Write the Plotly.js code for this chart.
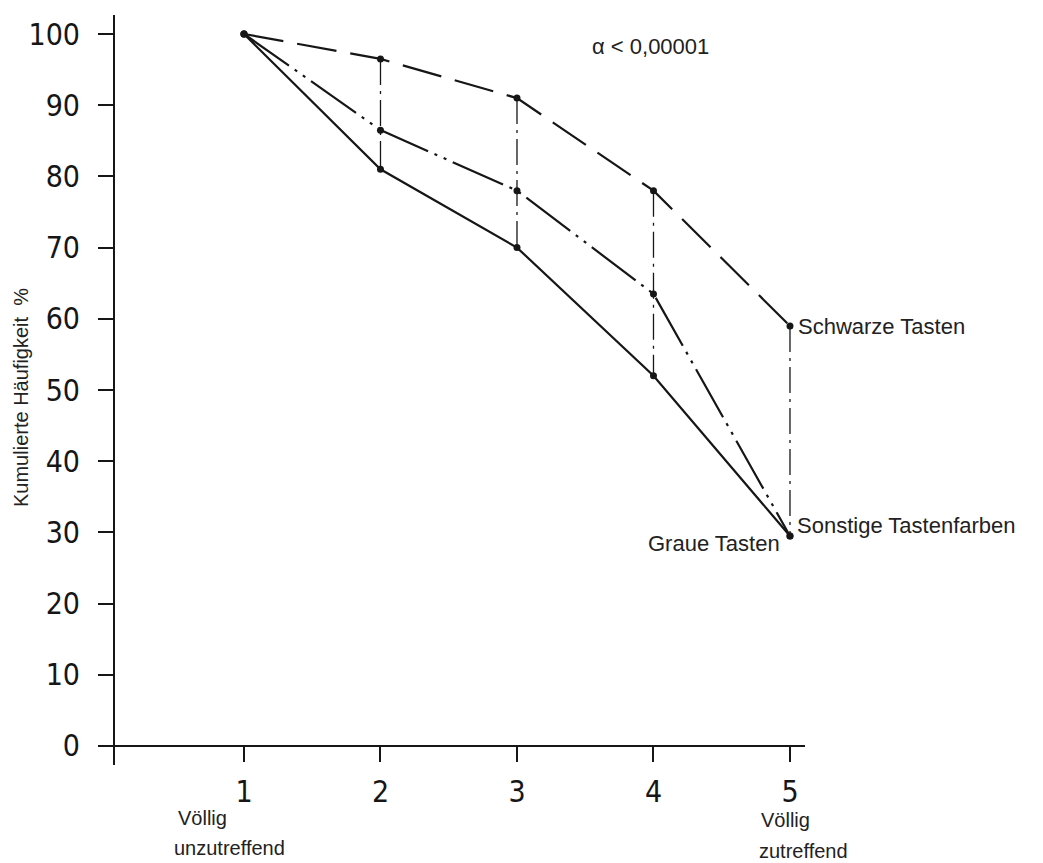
<!DOCTYPE html>
<html>
<head>
<meta charset="utf-8">
<script src="https://cdn.plot.ly/plotly-3.0.1.min.js"></script>
<style>html,body{margin:0;padding:0;background:#fff;}#chart{width:1043px;height:863px;}</style>
</head>
<body>
<div id="chart"></div>
<script>
// ---- data ----
const categories = [1, 2, 3, 4, 5];
const tickLabels = ["1", "2", "3", "4", "5"];
const schwarzeTasten = [100, 96.5, 91, 78, 59];
const sonstigeTastenfarben = [100, 86.5, 78, 63.5, 29.5];
const graueTasten = [100, 81, 70, 52, 29.5];
const yTicks = [0, 10, 20, 30, 40, 50, 60, 70, 80, 90, 100];
const seriesNames = ["Schwarze Tasten", "Sonstige Tastenfarben", "Graue Tasten"];
const yTitle = "Kumulierte Häufigkeit  %";
const alphaText = "α < 0,00001";

const ink = "#161616";
const tickFont = {family: "DejaVu Sans Condensed, Liberation Sans Narrow, Arial Narrow, Roboto, sans-serif", size: 30, color: ink, weight: 500};
const labelFont = {family: "Liberation Sans, Arial, sans-serif", size: 22, color: "#222"};

// vertical connectors between highest and lowest value at each category
const connX = [], connY = [];
for (let i = 1; i < categories.length; i++) {
  const hi = Math.max(schwarzeTasten[i], sonstigeTastenfarben[i], graueTasten[i]);
  const lo = Math.min(schwarzeTasten[i], sonstigeTastenfarben[i], graueTasten[i]);
  connX.push(categories[i], categories[i], null);
  connY.push(hi, lo, null);
}

const traces = [
  {x: connX, y: connY, mode: "lines", line: {color: ink, width: 1.3, dash: "26px,6px,3px,6px"}, hoverinfo: "skip", showlegend: false},
  {x: categories, y: schwarzeTasten, name: seriesNames[0], mode: "lines+markers",
   line: {color: ink, width: 2.2, dash: "40px,14px"}, marker: {color: ink, size: 7}},
  {x: categories, y: sonstigeTastenfarben, name: seriesNames[1], mode: "lines+markers",
   line: {color: ink, width: 2.2, dash: "55px,7px,3px,7px,3px,7px"}, marker: {color: ink, size: 7}},
  {x: categories, y: graueTasten, name: seriesNames[2], mode: "lines+markers",
   line: {color: ink, width: 2.2}, marker: {color: ink, size: 7}}
];

const last = categories.length - 1;
const ann = (o) => Object.assign({showarrow: false, xanchor: "center", yanchor: "middle", font: labelFont}, o);
const px = (p) => (p - 115) / 690;   // pixel -> paper x
const py = (p) => (765 - p) / 750;   // pixel -> paper y

const layout = {
  width: 1043, height: 863,
  margin: {l: 115, r: 238, t: 15, b: 98, pad: 0},
  paper_bgcolor: "#fff", plot_bgcolor: "#fff",
  showlegend: false,
  xaxis: {
    range: [0.055, 5.11], tickmode: "array", tickvals: categories, ticktext: tickLabels,
    showgrid: false, zeroline: false, showline: true, linecolor: ink, linewidth: 2,
    ticks: "outside", ticklen: 15, tickwidth: 2, tickcolor: ink,
    anchor: "free", position: 0.0253, tickfont: tickFont, ticklabelstandoff: 4
  },
  yaxis: {
    range: [-2.67, 102.67], tickmode: "array", tickvals: yTicks,
    showgrid: false, zeroline: false, showline: true, linecolor: ink, linewidth: 2,
    ticks: "outside", ticklen: 15, tickwidth: 2, tickcolor: ink,
    tickfont: tickFont, ticklabelstandoff: 12
  },
  shapes: [
    {type: "line", xref: "paper", yref: "paper", x0: -0.011, x1: 0, y0: 0.0253, y1: 0.0253, line: {color: ink, width: 2}}
  ],
  annotations: [
    ann({text: alphaText, xref: "paper", yref: "paper", x: px(650), y: py(46)}),
    ann({text: seriesNames[0], x: categories[last], y: schwarzeTasten[last], xanchor: "left", xshift: 6, yshift: -1}),
    ann({text: seriesNames[1], x: categories[last], y: sonstigeTastenfarben[last], xanchor: "left", xshift: 5, yshift: 10}),
    ann({text: seriesNames[2], x: categories[last], y: graueTasten[last], xanchor: "right", xshift: -8, yshift: -8}),
    ann({text: "Völlig", xref: "paper", yref: "paper", x: px(176), y: py(818), xanchor: "left", font: {...labelFont, size: 20}}),
    ann({text: "unzutreffend", xref: "paper", yref: "paper", x: px(172), y: py(848), xanchor: "left", font: {...labelFont, size: 20}}),
    ann({text: "Völlig", xref: "paper", yref: "paper", x: px(759), y: py(820), xanchor: "left", font: {...labelFont, size: 20}}),
    ann({text: "zutreffend", xref: "paper", yref: "paper", x: px(757), y: py(851), xanchor: "left", font: {...labelFont, size: 20}}),
    ann({text: yTitle, xref: "paper", yref: "paper", x: px(21), y: py(398), textangle: -90, font: {...labelFont, size: 20}})
  ]
};

Plotly.newPlot("chart", traces, layout, {staticPlot: true, displayModeBar: false});
</script>
</body>
</html>
